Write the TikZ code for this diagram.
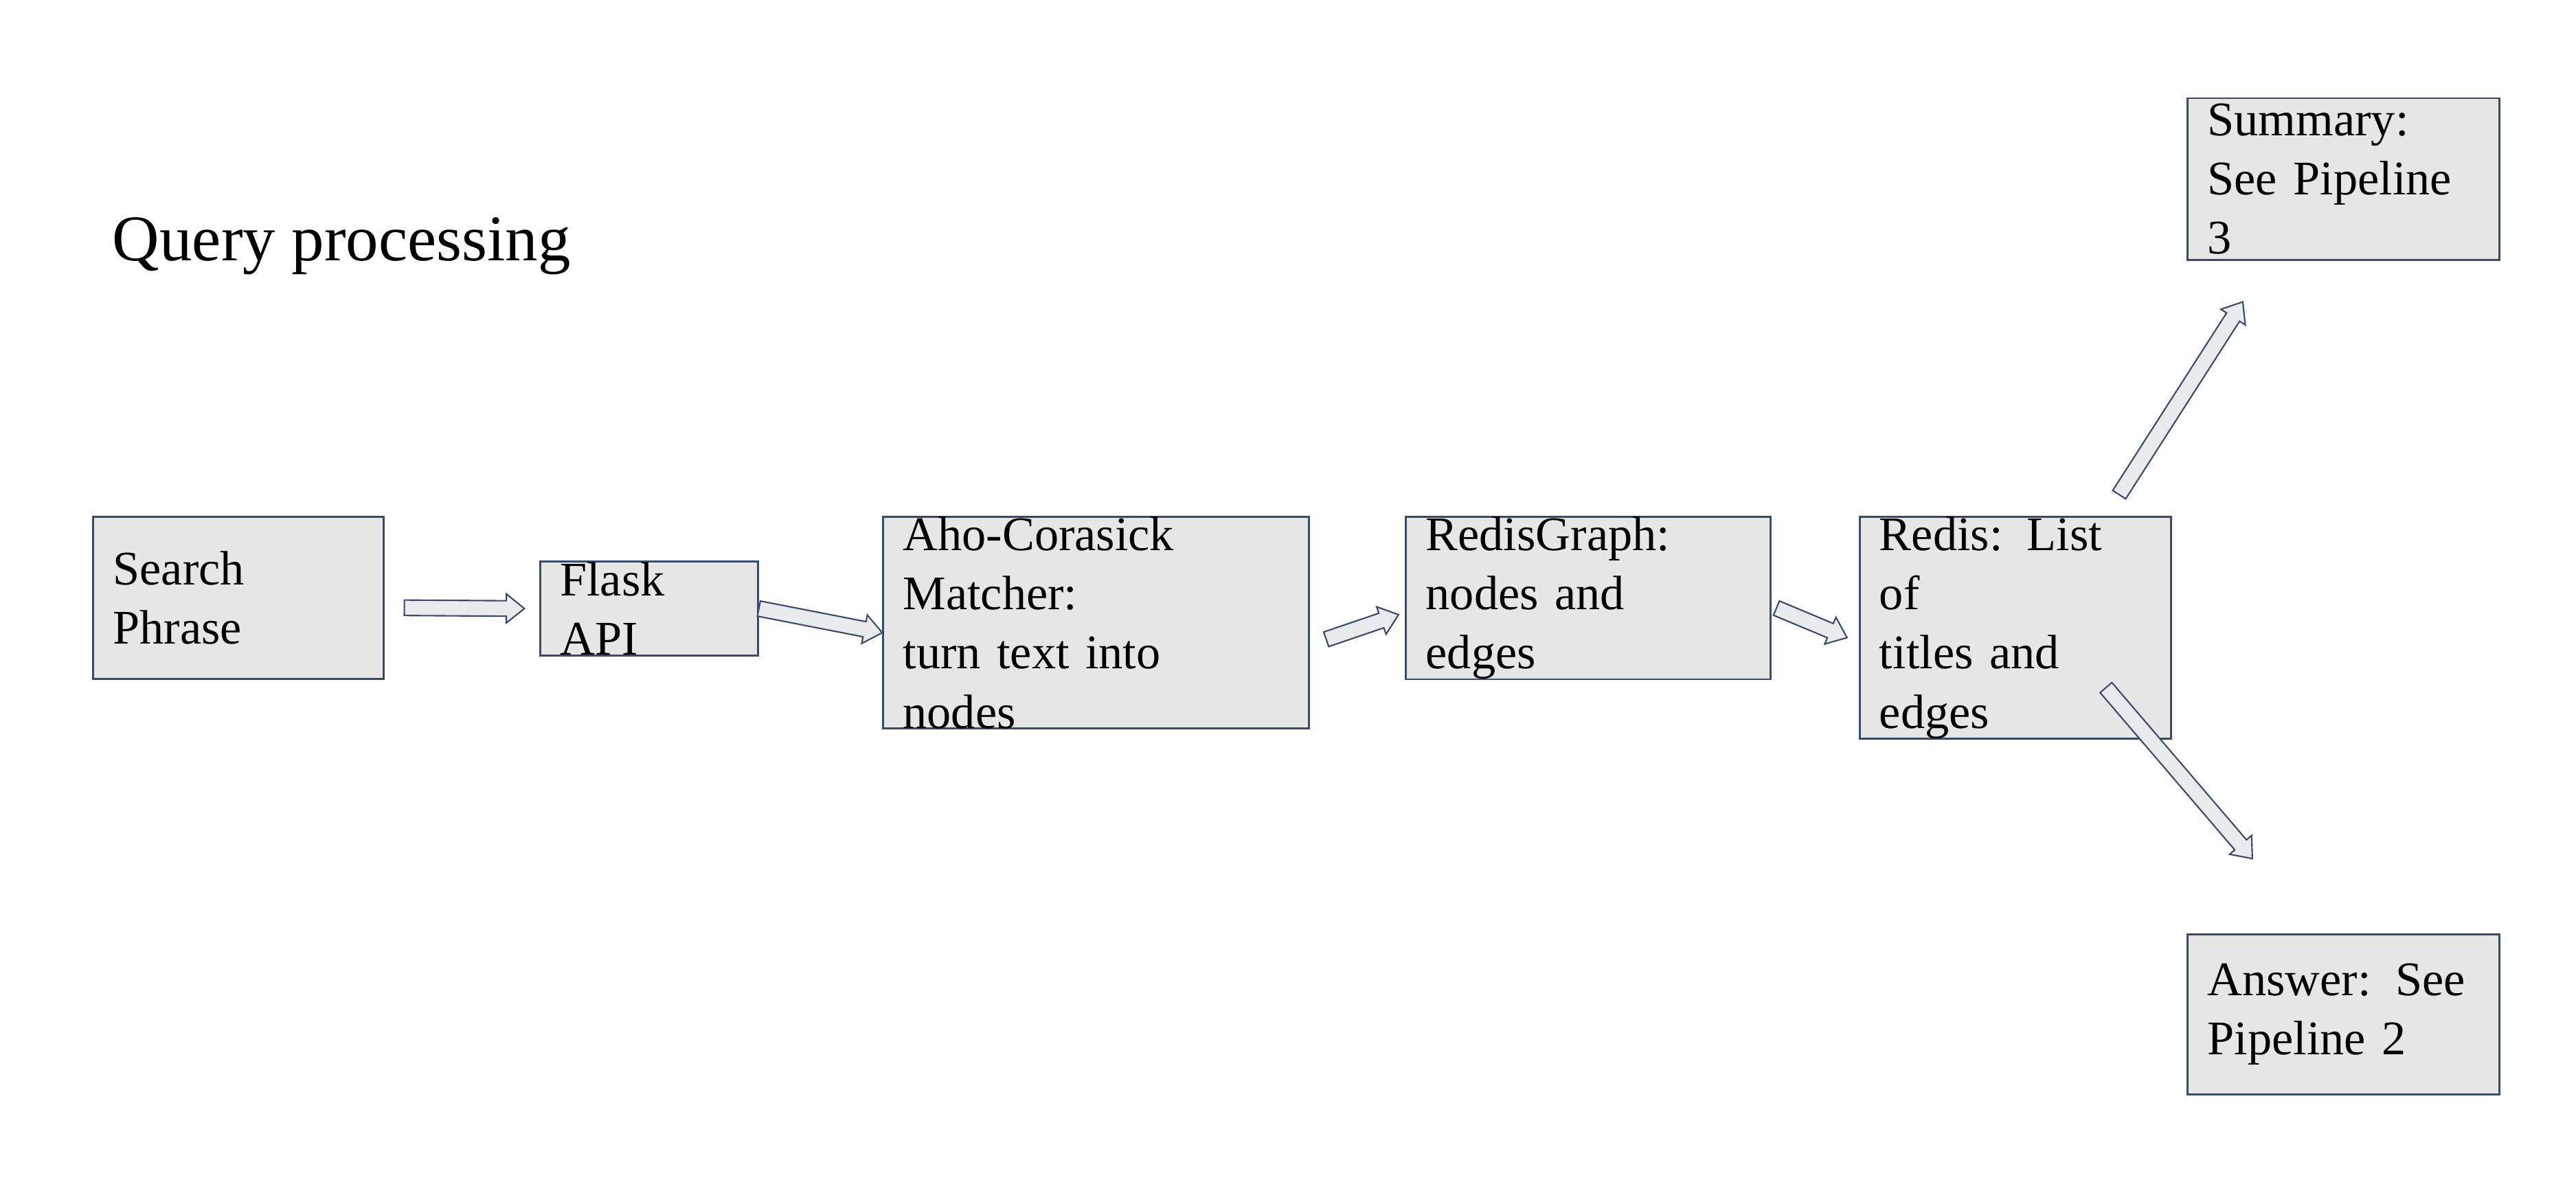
\documentclass[tikz,border=0pt]{standalone}
\usepackage{fontspec}
\setmainfont{Liberation Serif}
\usetikzlibrary{calc, positioning}

\definecolor{boxfill}{HTML}{E6E6E6}
\definecolor{boxline}{HTML}{3C4A6A}
\definecolor{arrowfill}{HTML}{E8EAEE}

\tikzset{
    stage/.style={draw=boxline, fill=boxfill, line width=0.8pt, align=left,
        inner xsep=12*0.024cm, inner ysep=0pt,
        font=\fontsize{20}{24.5}\selectfont, anchor=north west},
}

% hollow block arrow from #1 to #2
\newcommand{\blockarrow}[2]{
    \path let \p1=($(#2)-(#1)$), \n1={atan2(\y1,\x1)}, \n2={veclen(\x1,\y1)} in
        [draw=boxline, fill=arrowfill, line width=0.6pt, shift={(#1)}, rotate=\n1]
        (0pt,-3.2pt) -- (\n2-7.5pt,-3.2pt) -- (\n2-7.5pt,-6pt) -- (\n2,0pt)
        -- (\n2-7.5pt,6pt) -- (\n2-7.5pt,3.2pt) -- (0pt,3.2pt) -- cycle;
}

\begin{document}
\begin{tikzpicture}[x=0.024cm, y=-0.024cm]
\useasboundingbox (0,0) rectangle (1562,730);

\node[anchor=base west, font=\fontsize{27}{32}\selectfont, inner sep=0pt] (title) at (68,158) {Query processing};

% pipeline stages
\node[stage, text width=152*0.024cm, minimum height=98*0.024cm] (search) at (56,313) {Search\\Phrase};
\node[stage, text width=108*0.024cm, minimum height=57*0.024cm] (flask) at (327,340) {Flask\\API};
\node[stage, text width=234*0.024cm, minimum height=98*0.024cm] (aho) at (535,313) {Aho-Corasick\\Matcher:\\turn text into nodes};
\node[stage, text width=197*0.024cm, minimum height=98*0.024cm] (graph) at (852,313) {RedisGraph:\\nodes and\\edges};
\node[stage, text width=165*0.024cm, minimum height=98*0.024cm] (redis) at (1127,313) {Redis: List of\\titles and\\edges};
\node[stage, text width=165*0.024cm, minimum height=98*0.024cm] (summary) at (1326,59) {Summary:\\See Pipeline\\3};
\node[stage, text width=165*0.024cm, minimum height=97*0.024cm] (answer) at (1326,566) {Answer: See\\Pipeline 2};

% arrow ends
\coordinate (a1s) at ($(search.east)+(12,6)$);
\coordinate (a1e) at ($(flask.west)+(-9,0)$);
\coordinate (a2s) at (flask.east);
\coordinate (a2e) at ($(aho.west)+(0,6)$);
\coordinate (a3s) at ($(aho.east)+(10,10)$);
\coordinate (a3e) at ($(graph.west)+(-4,10)$);
\coordinate (a4s) at ($(graph.east)+(3,6)$);
\coordinate (a4e) at ($(redis.west)+(-7,6)$);
\coordinate (a5s) at (1285,300);
\coordinate (a5e) at (1360,183);
\coordinate (a6s) at (1277,417);
\coordinate (a6e) at (1366,521);

\blockarrow{a1s}{a1e}
\blockarrow{a2s}{a2e}
\blockarrow{a3s}{a3e}
\blockarrow{a4s}{a4e}
\blockarrow{a5s}{a5e}
\blockarrow{a6s}{a6e}

\end{tikzpicture}
\end{document}
